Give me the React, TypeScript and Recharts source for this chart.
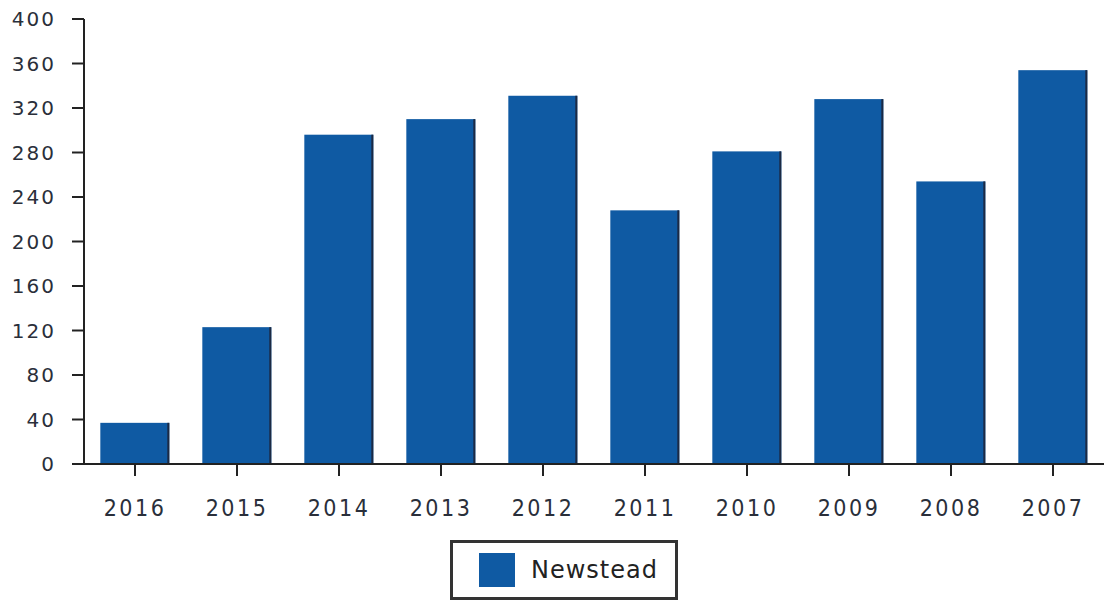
import React from "react";
import { BarChart, Bar, XAxis, YAxis, Legend } from "recharts";

const years = ["2016", "2015", "2014", "2013", "2012", "2011", "2010", "2009", "2008", "2007"];
const newstead = [37, 123, 296, 310, 331, 228, 281, 328, 254, 354];
const yTicks = [0, 40, 80, 120, 160, 200, 240, 280, 320, 360, 400];

const data = years.map((y, i) => ({ year: y, Newstead: newstead[i] }));

const BAR_COLOR = "#0f5aa3";

const BarShape = (props: any) => {
  const { x, y, width, height } = props;
  if (height <= 0) return null;
  return (
    <g>
      <rect x={x} y={y} width={width} height={height} fill={BAR_COLOR} />
      <rect x={x + width - 2} y={y} width={2} height={height} fill="#1c2a44" />
    </g>
  );
};

const LegendBox = () => (
  <div style={{ display: "flex", justifyContent: "center", paddingLeft: 24 }}>
    <div
      style={{
        boxSizing: "border-box",
        width: 228,
        height: 60,
        border: "3px solid #333",
        display: "flex",
        alignItems: "center",
        paddingLeft: 26,
        background: "#fff",
      }}
    >
      <div style={{ width: 36, height: 34, background: BAR_COLOR, marginRight: 16 }} />
      <span style={{ fontFamily: "DejaVu Sans", fontSize: 24, color: "#222", letterSpacing: 1 }}>
        Newstead
      </span>
    </div>
  </div>
);

export default function App() {
  const tickStyle = { fill: "#2a2f3a" };
  return (
    <div style={{ position: "absolute", left: 0, top: 0, width: 1110, height: 603, background: "#fff" }}>
      <BarChart
        width={1110}
        height={603}
        data={data}
        margin={{ top: 19, right: 6, left: 0, bottom: 0 }}
        barCategoryGap="16%"
      >
        <YAxis
          width={84}
          domain={[0, 400]}
          ticks={yTicks}
          interval={0}
          tickSize={12}
          tickMargin={16}
          axisLine={{ stroke: "#222", strokeWidth: 2 }}
          tickLine={{ stroke: "#222", strokeWidth: 2 }}
          tick={{ ...tickStyle, fontFamily: "DejaVu Sans", fontSize: 20, letterSpacing: 2 }}
        />
        <XAxis
          dataKey="year"
          height={79}
          interval={0}
          tickSize={12}
          tickMargin={24}
          axisLine={{ stroke: "#222", strokeWidth: 2 }}
          tickLine={{ stroke: "#222", strokeWidth: 2 }}
          tick={{ ...tickStyle, fontFamily: "DejaVu Sans Condensed, DejaVu Sans", fontSize: 23, letterSpacing: 2.5 }}
        />
        <Legend
          verticalAlign="bottom"
          align="center"
          height={60}
          wrapperStyle={{ bottom: 3 }}
          content={() => <LegendBox />}
        />
        <Bar dataKey="Newstead" fill={BAR_COLOR} shape={BarShape} isAnimationActive={false} />
      </BarChart>
    </div>
  );
}
